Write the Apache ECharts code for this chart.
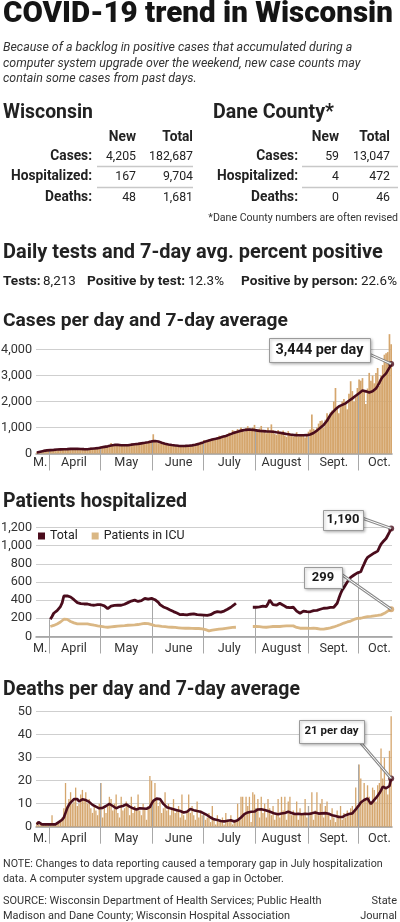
<!DOCTYPE html>
<html><head><meta charset="utf-8">
<script src="https://cdn.jsdelivr.net/npm/echarts@6/dist/echarts.min.js"></script>
<style>html,body{margin:0;padding:0;background:#fff;}#c{width:400px;height:922px;}</style>
</head><body><div id="c"></div>
<script>
// ---------- DATA ----------
const categories = Array.from({length: 211}, (_, i) => { const d = new Date(2020, 2, 24 + i); return (d.getMonth() + 1) + '/' + d.getDate(); });
const monthLabels = ['M.', 'April', 'May', 'June', 'July', 'August', 'Sept.', 'Oct.'];
const monthLabelDates = ['3/26', '4/15', '5/16', '6/16', '7/16', '8/16', '9/16', '10/13'];
const casesTicks = [0, 1000, 2000, 3000, 4000];

const casesDaily = [
50,60,80,90,110,120,130,140,130,150,
160,140,150,180,130,170,190,160,150,170,
200,170,190,180,150,160,190,170,160,150,
170,190,230,200,180,210,230,240,270,250,
280,300,250,330,400,300,310,350,300,320,
340,290,350,330,300,320,380,370,340,330,
380,410,360,420,440,400,470,500,460,740,
470,430,400,380,450,370,360,330,340,320,
310,330,280,270,300,290,260,300,310,280,
300,330,320,280,380,400,410,450,420,520,
480,510,550,490,580,600,530,610,680,600,
640,700,680,750,800,720,900,870,820,940,
880,1000,930,850,980,1050,960,880,1000,1100,
900,850,960,1060,820,830,780,1000,860,1120,
890,760,720,900,770,810,880,690,640,860,
780,700,650,730,820,660,690,700,750,620,
680,840,920,1500,950,880,1000,1150,1250,1270,
1000,1300,1550,1400,1580,1650,2000,2520,1800,1550,
1800,2000,2100,1900,1700,2300,2780,2400,2000,2200,
2520,2850,2800,2900,2400,1900,2500,3100,2800,3000,
2700,3100,3290,2600,3000,3400,3800,3860,3900,4590,4205];

const casesAvg = [
40,55,70,85,100,110,120,125,130,135,
140,150,155,160,160,165,165,170,170,175,
178,180,182,180,178,175,172,170,168,166,
165,170,180,190,195,200,205,215,230,245,
255,265,275,290,305,315,330,335,330,325,
320,318,320,322,320,330,340,350,355,362,
370,380,390,400,410,420,435,450,465,475,
480,475,460,440,415,395,375,360,345,335,
325,320,310,300,295,290,288,290,292,295,
300,305,312,320,335,350,370,390,410,445,
465,480,500,520,535,550,565,585,600,620,
640,655,675,700,725,750,775,800,820,840,
860,875,890,900,910,920,925,920,910,900,
890,880,870,865,860,855,850,848,845,840,
835,825,815,805,800,790,775,760,750,740,
730,722,715,710,705,700,700,698,700,700,
705,715,730,760,790,830,880,930,990,1050,
1100,1170,1260,1375,1480,1560,1630,1700,1760,1810,
1850,1870,1890,1930,1980,2030,2075,2120,2170,2220,
2265,2320,2380,2420,2410,2390,2370,2350,2360,2390,
2420,2500,2600,2720,2850,2950,3020,3080,3150,3300,3444];

const hospTotal = [
null,null,null,null,null,null,null,null,190,220,
256,270,285,293,330,370,446,445,448,446,
435,420,405,385,373,368,362,360,358,358,
358,352,348,345,344,350,352,351,350,345,
337,330,307,318,335,340,342,340,344,344,
344,348,355,365,373,380,390,402,400,392,
386,384,395,410,420,415,412,417,420,416,
405,395,375,352,337,325,315,311,300,292,
280,274,268,258,248,240,238,242,240,238,
240,245,250,249,244,240,238,238,240,235,
230,232,234,240,250,262,270,274,270,268,
274,280,290,300,310,322,335,350,366,null,
null,null,null,null,null,null,null,null,322,325,
322,318,325,330,334,338,330,360,402,380,
350,337,345,355,366,360,345,330,322,322,
318,322,322,300,280,265,256,268,280,282,
274,270,272,280,285,290,288,285,300,310,
311,305,312,318,320,326,322,335,366,420,
470,512,540,570,600,622,650,670,677,690,
700,710,713,760,800,841,870,890,896,910,
920,925,940,980,1017,1040,1060,1079,1100,1150,1190];

const hospICU = [
null,null,null,null,null,null,null,null,110,115,
122,130,138,146,160,175,190,194,188,178,
165,158,150,145,140,139,140,142,140,139,
139,136,132,128,124,120,117,114,112,110,
106,104,102,104,106,108,110,112,114,117,
117,118,120,122,124,125,126,127,128,130,
132,135,138,142,145,146,142,138,130,124,
120,118,117,115,112,110,108,106,104,102,
102,102,100,98,96,94,92,91,91,90,
91,92,90,88,88,89,88,88,85,80,
75,70,62,65,70,72,75,78,80,82,
85,88,90,92,95,98,100,101,102,null,
null,null,null,null,null,null,null,null,110,108,
110,112,108,105,104,103,102,104,106,108,
110,112,110,108,110,112,114,116,117,118,
118,117,117,110,100,95,91,90,91,92,
92,91,90,91,92,90,88,85,82,80,
82,85,88,92,96,100,105,110,118,125,
132,140,148,155,160,165,170,178,188,195,
200,200,201,205,210,214,218,220,222,225,
228,230,232,235,238,245,255,265,280,293,299];

const deathsDaily = [
2,1,1,1,1,1,1,1,1,5,
1,1,2,2,3,4,8,19,9,12,
15,10,11,17,9,10,14,16,12,15,
10,12,8,6,9,7,5,10,19,4,
8,6,9,13,12,7,10,14,6,4,
13,7,8,11,9,5,13,6,9,7,
14,7,5,10,8,3,9,22,20,11,
19,12,9,11,6,8,15,7,10,5,
8,12,6,7,9,4,14,5,3,6,
14,6,9,5,3,11,4,7,5,6,
3,4,6,2,9,3,1,5,2,3,
4,1,6,3,2,5,1,3,2,10,
4,13,13,6,13,9,13,2,15,14,
8,12,4,13,6,10,4,12,8,5,
9,3,6,12,4,13,7,13,3,11,
13,5,7,6,11,3,8,5,6,12,
4,9,6,15,3,7,15,5,10,12,
4,9,11,6,3,8,4,2,7,5,
9,3,6,4,7,5,8,9,6,17,
8,27,21,11,19,12,18,13,10,17,
16,11,18,19,34,21,30,17,14,33,48];

const deathsAvg = [
1,2,2,1,1,1,1,1,1,1,
1,1,1,2,2.5,3,4,6,8,9.5,
10.5,11.3,12,12.8,12,11,11.5,11.9,11.7,11.6,
11.6,10.8,10,9.5,9,8.7,8.2,8,7.8,8.2,
8.7,9,9.5,9.9,9.6,9,8.5,8,8.3,8.7,
8.7,9,9.5,9.7,9.2,8.7,8.4,8,7.8,7.5,
7.7,8,8.1,7.9,7.7,7.8,8.1,8.5,10,11.2,
11.6,12.2,12.6,12,11,9.9,9.2,8.5,8.2,8,
7.8,7.6,7.5,7.2,7,6.8,6.5,6.2,6.1,6.5,
7.3,7.7,7.5,7.2,7,6.8,6.7,6.5,6.2,5.8,
5.4,5,4.4,4,3.6,3.2,3,2.9,2.7,2.5,
2.4,2.3,2.2,2.6,3.2,2.8,2.5,2.3,2.2,2.8,
3.3,4,4.8,5.5,6,6.2,6.4,6.5,6.5,6.6,
7,7.5,7.8,7.6,7.5,7.3,7,6.8,6.5,6.3,
6,5.7,5.5,5.4,5.5,5.7,5.8,6,6.3,6.5,
6.5,6,5.6,5.5,5.5,5.6,5.5,5.4,5.5,5.6,
5.5,5.5,5.6,5.8,6,6.2,6,5.7,5.6,5.8,
5.8,5.9,5.8,5.6,5.3,5,4.8,4.6,4.4,4.2,
4,4.2,4.6,5,5.2,5.5,5.7,5.8,6,7.5,
8.5,9.4,10.5,11.2,11.6,12,12.3,11,9.9,10.8,
11.6,12.5,13.5,14.5,15.8,17.4,17,16.7,17.2,17.7,21];

const tableRowLabels = ['Cases:', 'Hospitalized:', 'Deaths:'];
const wisNew = [4205, 167, 48];
const wisTotal = [182687, 9704, 1681];
const daneNew = [59, 4, 0];
const daneTotal = [13047, 472, 46];
const testStats = [['Tests:', '8,213'], ['Positive by test:', '12.3%'], ['Positive by person:', '22.6%']];

// ---------- STYLE ----------
const FONT = '"Liberation Sans Narrow", "Roboto", sans-serif';
const MAROON = '#4a0c1c', BAR = '#d5a66d', ICU = '#dab784', GRID = '#cfcfcf', AXIS = '#9a9a9a', INK = '#222';
const mctx = document.createElement('canvas').getContext('2d');
function fit(t, w, weight, style) { mctx.font = (style || 'normal') + ' ' + (weight || 'normal') + ' 100px ' + FONT; return 100 * w / mctx.measureText(t).width; }
function txt(t, x, y, size, o) {
  o = o || {};
  return { type: 'text', z: o.z || 20, silent: true, style: { text: t, x: x, y: y, fill: o.color || INK, fontSize: size, fontFamily: FONT,
    fontWeight: o.weight || 'normal', fontStyle: o.style || 'normal', textAlign: o.align || 'left', textVerticalAlign: 'middle', verticalAlign: 'middle' } };
}
function ln(x1, y1, x2, y2, color, w, z) { return { type: 'line', z: z || 20, silent: true, shape: { x1, y1, x2, y2 }, style: { stroke: color, lineWidth: w } }; }
const fmt = v => v.toLocaleString('en-US');

const axisFs = fit('4,000', 31);
const grids = [
  { left: 36, width: 356, top: 349.5, height: 104, outerBoundsMode: 'none' },
  { left: 36, width: 356, top: 527.5, height: 109, outerBoundsMode: 'none' },
  { left: 36, width: 356, top: 711.7, height: 115, outerBoundsMode: 'none' }
];
function xAx(g, margin) {
  return { type: 'category', gridIndex: g, data: categories, boundaryGap: true,
    axisLine: { show: true, lineStyle: { color: AXIS, width: 1.5 } }, axisTick: { show: false },
    axisLabel: { interval: (i, v) => monthLabelDates.includes(v), formatter: v => monthLabels[monthLabelDates.indexOf(v)],
      margin: margin, fontSize: axisFs, fontFamily: FONT, color: '#333', hideOverlap: false } };
}
function yAx(g, max, interval) {
  return { type: 'value', gridIndex: g, min: 0, max: max, interval: interval,
    axisLine: { show: false }, axisTick: { show: false },
    splitLine: { lineStyle: { color: GRID, width: 1 } },
    axisLabel: { formatter: fmt, margin: 4, fontSize: axisFs, fontFamily: FONT, color: '#333' } };
}
const last = categories.length - 1;
const legendFs = fit('Patients in ICU', 81);

const chart = echarts.init(document.getElementById('c'), null, { renderer: 'canvas' });
chart.setOption({
  animation: false,
  backgroundColor: '#fff',
  grid: grids,
  xAxis: [xAx(0, 3), xAx(1, 6), xAx(2, 6)],
  yAxis: [yAx(0, casesTicks[casesTicks.length - 1], 1000), yAx(1, 1200, 200), yAx(2, 50, 10)],
  legend: { left: 38, top: 530, padding: 0, icon: 'rect', itemWidth: 7, itemHeight: 7, itemGap: 14, selectedMode: false,
    textStyle: { fontSize: legendFs, fontFamily: FONT, color: INK },
    data: [{ name: 'Total', itemStyle: { color: MAROON } }, { name: 'Patients in ICU', itemStyle: { color: ICU } }] },
  series: [
    { name: 'Cases', type: 'bar', xAxisIndex: 0, yAxisIndex: 0, data: casesDaily, barCategoryGap: '0%', clip: false, itemStyle: { color: BAR }, z: 2, silent: true },
    { name: 'Cases 7-day', type: 'line', xAxisIndex: 0, yAxisIndex: 0, data: casesAvg, symbol: 'none', lineStyle: { color: MAROON, width: 2.6 }, z: 4, silent: true },
    { name: 'Cases dot', type: 'scatter', xAxisIndex: 0, yAxisIndex: 0, data: [[last, casesAvg[last]]], symbolSize: 6, itemStyle: { color: MAROON }, z: 6, silent: true },
    { name: 'Total', type: 'line', xAxisIndex: 1, yAxisIndex: 1, data: hospTotal, symbol: 'none', lineStyle: { color: MAROON, width: 2.8 }, itemStyle: { color: MAROON }, z: 5, silent: true },
    { name: 'Patients in ICU', type: 'line', xAxisIndex: 1, yAxisIndex: 1, data: hospICU, symbol: 'none', lineStyle: { color: ICU, width: 2.8 }, itemStyle: { color: ICU }, z: 4, silent: true },
    { name: 'Total dot', type: 'scatter', xAxisIndex: 1, yAxisIndex: 1, data: [[last, hospTotal[last]]], symbolSize: 6, itemStyle: { color: MAROON }, z: 6, silent: true },
    { name: 'ICU dot', type: 'scatter', xAxisIndex: 1, yAxisIndex: 1, data: [[last, hospICU[last]]], symbolSize: 6, itemStyle: { color: '#d09e60' }, z: 6, silent: true },
    { name: 'Deaths', type: 'bar', xAxisIndex: 2, yAxisIndex: 2, data: deathsDaily, barCategoryGap: '22%', clip: false, itemStyle: { color: BAR }, z: 2, silent: true },
    { name: 'Deaths 7-day', type: 'line', xAxisIndex: 2, yAxisIndex: 2, data: deathsAvg, symbol: 'none', lineStyle: { color: MAROON, width: 2.6 }, z: 4, silent: true },
    { name: 'Deaths dot', type: 'scatter', xAxisIndex: 2, yAxisIndex: 2, data: [[last, deathsAvg[last]]], symbolSize: 6, itemStyle: { color: MAROON }, z: 6, silent: true }
  ]
});

// ---------- TEXT & ANNOTATIONS ----------
const G = [];
G.push(txt('COVID-19 trend in Wisconsin', 3, 15, fit('COVID-19 trend in Wisconsin', 390, '900'), { weight: '900', color: '#151515' }));
const sub = ['Because of a backlog in positive cases that accumulated during a', 'computer system upgrade over the weekend, new case counts may', 'contain some cases from past days.'];
const subFs = fit(sub[0], 350, 'normal', 'italic');
[48, 63.5, 79].forEach((y, i) => G.push(txt(sub[i], 3, y, subFs, { style: 'italic', color: '#333' })));

G.push(txt('Wisconsin', 3, 113, fit('Wisconsin', 90, 'bold'), { weight: 'bold' }));
G.push(txt('Dane County*', 213, 113, fit('Dane County*', 121, 'bold'), { weight: 'bold' }));
const labFs = fit('Hospitalized:', 81, 'bold');
const valFs = fit('182,687', 44);
const rowY = [157, 177, 198];
function table(labX, newX, totX, nv, tv, lineX1, lineX2) {
  G.push(txt('New', newX, 138, labFs, { weight: 'bold', align: 'right' }));
  G.push(txt('Total', totX, 138, labFs, { weight: 'bold', align: 'right' }));
  tableRowLabels.forEach((l, i) => {
    G.push(txt(l, labX, rowY[i], labFs, { weight: 'bold', align: 'right' }));
    G.push(txt(fmt(nv[i]), newX, rowY[i], valFs, { align: 'right' }));
    G.push(txt(fmt(tv[i]), totX, rowY[i], valFs, { align: 'right' }));
  });
  G.push(ln(lineX1, 166.5, lineX2, 166.5, '#c8c8c8', 1.5));
  G.push(ln(lineX1, 187.5, lineX2, 187.5, '#c8c8c8', 1.5));
}
table(92, 136, 193, wisNew, wisTotal, 97, 193);
table(298, 339, 390, daneNew, daneTotal, 302, 398);
G.push(txt('*Dane County numbers are often revised', 398, 218, fit('*Dane County numbers are often revised', 190), { align: 'right', color: '#333' }));

G.push(txt('Daily tests and 7-day avg. percent positive', 3, 253, fit('Daily tests and 7-day avg. percent positive', 380, 'bold'), { weight: 'bold' }));
const tbFs = fit('Positive by person:', 117, 'bold'), tvFs = fit('22.6%', 36);
const tLabX = [3, 87, 241], tValX = [43, 188, 361];
testStats.forEach((p, i) => { G.push(txt(p[0], tLabX[i], 282, tbFs, { weight: 'bold' })); G.push(txt(p[1], tValX[i], 282, tvFs)); });

G.push(txt('Cases per day and 7-day average', 3, 321, fit('Cases per day and 7-day average', 285, 'bold'), { weight: 'bold' }));
G.push(txt('Patients hospitalized', 3, 502, fit('Patients hospitalized', 184, 'bold'), { weight: 'bold' }));
G.push(txt('Deaths per day and 7-day average', 3, 690, fit('Deaths per day and 7-day average', 297, 'bold'), { weight: 'bold' }));

const note = ['NOTE: Changes to data reporting caused a temporary gap in July hospitalization', 'data. A computer system upgrade caused a gap in October.'];
const noteFs = fit(note[0], 380);
G.push(txt(note[0], 3, 864.5, noteFs, { color: '#333' }));
G.push(txt(note[1], 3, 879.5, noteFs, { color: '#333' }));
const src = ['SOURCE: Wisconsin Department of Health Services; Public Health', 'Madison and Dane County; Wisconsin Hospital Association'];
const srcFs = fit(src[0], 319);
G.push(txt(src[0], 3, 901.5, srcFs, { color: '#333' }));
G.push(txt(src[1], 3, 916, srcFs, { color: '#333' }));
G.push(txt('State', 397, 901.5, srcFs, { align: 'right', color: '#333' }));
G.push(txt('Journal', 397, 916, srcFs, { align: 'right', color: '#333' }));

// month dividers (computed from the library's scales)
const gridVals = [
  i => casesAvg[i],
  i => hospTotal[i] == null ? 0 : hospTotal[i],
  i => Math.max(deathsDaily[i], deathsAvg[i])
];
const boundaries = categories.map((c, i) => c.split('/')[1] === '1' ? i : -1).filter(i => i >= 0);
for (let g = 0; g < 3; g++) {
  const p0 = chart.convertToPixel({ gridIndex: g }, [0, 0]);
  const p1 = chart.convertToPixel({ gridIndex: g }, [1, 0]);
  const half = (p1[0] - p0[0]) / 2;
  boundaries.forEach(b => {
    const top = chart.convertToPixel({ gridIndex: g }, [b, gridVals[g](b)]);
    const x = Math.round(top[0] - half) + 0.5;
    G.push(ln(x, top[1], x, p0[1] + 17, '#a8a8a8', 1, 3));
  });
}

// callout boxes
function callout(label, bx, by, bw, bh, fs, fromX, fromY, g, val) {
  const dot = chart.convertToPixel({ gridIndex: g }, [last, val]);
  G.push(ln(fromX, fromY, dot[0], dot[1], '#8a8a8a', 3, 18));
  G.push(ln(fromX, fromY, dot[0], dot[1], '#ffffff', 1, 19));
  G.push({ type: 'rect', z: 20, silent: true, shape: { x: bx + 0.5, y: by + 0.5, width: bw, height: bh },
    style: { fill: '#fff', stroke: '#9a9a9a', lineWidth: 1, shadowBlur: 3, shadowColor: 'rgba(0,0,0,0.3)', shadowOffsetX: 1, shadowOffsetY: 1 } });
  G.push(txt(label, bx + bw / 2, by + bh / 2, fs, { weight: 'bold', align: 'center', z: 21, color: '#1a1a1a' }));
}
const smallFs = fit('1,190', 33, 'bold');
callout(fmt(casesAvg[last]) + ' per day', 269, 338, 101, 24, fit('3,444 per day', 88, 'bold'), 369, 354, 0, casesAvg[last]);
callout(fmt(hospTotal[last]), 323, 510, 40, 20, smallFs, 362, 518, 1, hospTotal[last]);
callout(fmt(hospICU[last]), 304, 567, 38, 21, smallFs, 341, 574, 1, hospICU[last]);
callout(Math.round(deathsAvg[last]) + ' per day', 299, 720, 65, 23, fit('21 per day', 54, 'bold'), 360, 742, 2, deathsAvg[last]);

chart.setOption({ graphic: { elements: G } });
</script></body></html>
